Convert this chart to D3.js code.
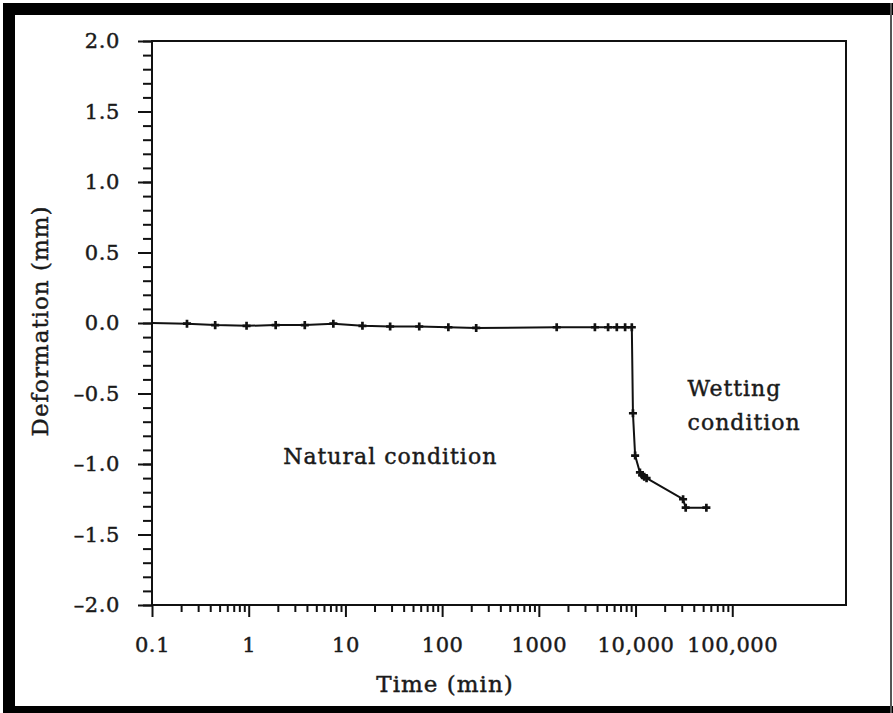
<!DOCTYPE html>
<html>
<head>
<meta charset="utf-8">
<script src="https://cdn.jsdelivr.net/npm/d3@7"></script>
<style>
  html, body { margin: 0; padding: 0; background: #fff; }
  svg { display: block; }
  text { font-family: "DejaVu Serif", serif; fill: #1a1a1a; stroke: #1a1a1a; stroke-width: 0.45px; letter-spacing: 0.6px; }
</style>
</head>
<body>
<script>
// Data (time in min, deformation in mm)
const timeMin = [0.1, 0.23, 0.45, 0.95, 1.9, 3.8, 7.5, 15, 29, 58, 116, 225,
    1530, 3800, 5200, 6400, 7800, 9150,
    9400, 9900, 11100, 11700, 12300, 13000, 31000, 33000, 54000];
const deformation = [0, -0.005, -0.015, -0.02, -0.015, -0.015, -0.005, -0.02, -0.025, -0.025, -0.03, -0.035,
    -0.03, -0.03, -0.03, -0.03, -0.03, -0.03,
    -0.64, -0.94, -1.06, -1.08, -1.09, -1.1, -1.25, -1.31, -1.31];

// Axis ticks and labels
const xTicks = [0.1, 1, 10, 100, 1000, 10000, 100000];
const xTickLabels = ['0.1', '1', '10', '100', '1000', '10,000', '100,000'];
const yTicks = [2.0, 1.5, 1.0, 0.5, 0.0, -0.5, -1.0, -1.5, -2.0];
const yTickLabels = ['2.0', '1.5', '1.0', '0.5', '0.0', '\u20130.5', '\u20131.0', '\u20131.5', '\u20132.0'];

const annotations = [
    { lines: ['Natural condition'], t: 2.27, d: -1.0 },
    { lines: ['Wetting', 'condition'], t: 34500, d: -0.52 }
];

// Layout
const W = 893, H = 713;
const m = { left: 152, right: 846, top: 41, bottom: 605 };

const svg = d3.select('body').append('svg')
    .attr('width', W)
    .attr('height', H);

// Outer scanned frame
svg.append('rect').attr('x', 3).attr('y', 3).attr('width', W - 3).attr('height', 12).attr('fill', '#000');
svg.append('rect').attr('x', 3).attr('y', 3).attr('width', 12).attr('height', H - 3).attr('fill', '#000');
svg.append('rect').attr('x', 3).attr('y', 706).attr('width', W - 3).attr('height', 7).attr('fill', '#000');
svg.append('rect').attr('x', 890).attr('y', 3).attr('width', 2).attr('height', H - 3).attr('fill', '#555');

// Scales
const x = d3.scaleLog().domain([0.1, 1.5e6]).range([m.left, m.right]);
const y = d3.scaleLinear().domain([-2, 2]).range([m.bottom, m.top]);

// Minor ticks
const xMinor = [];
xTicks.slice(0, -1).forEach(dec => {
    for (let k = 2; k <= 9; k++) xMinor.push(dec * k);
});
const yMinor = d3.range(-20, 21).map(v => v / 10);

const axisStyle = g => {
    g.select('.domain').remove();
    g.selectAll('line').attr('stroke', '#111').attr('stroke-width', 2);
};
const labelStyle = g => g.selectAll('text')
    .attr('font-size', 21)
    .attr('font-family', '"DejaVu Serif", serif')
    .attr('fill', '#1a1a1a');

// X axis
svg.append('g')
    .attr('transform', `translate(0,${m.bottom})`)
    .call(d3.axisBottom(x).tickValues(xMinor).tickSize(7).tickFormat(''))
    .call(axisStyle);
svg.append('g')
    .attr('transform', `translate(0,${m.bottom})`)
    .call(d3.axisBottom(x).tickValues(xTicks).tickSize(12).tickPadding(20)
        .tickFormat((d, i) => xTickLabels[i]))
    .call(axisStyle)
    .call(labelStyle);

// Y axis
svg.append('g')
    .attr('transform', `translate(${m.left},0)`)
    .call(d3.axisLeft(y).tickValues(yMinor).tickSize(9).tickFormat(''))
    .call(axisStyle);
svg.append('g')
    .attr('transform', `translate(${m.left},0)`)
    .call(d3.axisLeft(y).tickValues(yTicks).tickSize(14).tickPadding(18)
        .tickFormat((d, i) => yTickLabels[i]))
    .call(axisStyle)
    .call(labelStyle);

// Plot frame
svg.append('rect')
    .attr('x', m.left)
    .attr('y', m.top)
    .attr('width', m.right - m.left)
    .attr('height', m.bottom - m.top)
    .attr('fill', 'none')
    .attr('stroke', '#111')
    .attr('stroke-width', 2);

// Series
const pts = timeMin.map((t, i) => [t, deformation[i]]);
const line = d3.line().x(d => x(d[0])).y(d => y(d[1]));
svg.append('path')
    .datum(pts)
    .attr('d', line)
    .attr('fill', 'none')
    .attr('stroke', '#111')
    .attr('stroke-width', 2);

svg.append('g')
    .selectAll('path')
    .data(pts.slice(1))
    .join('path')
    .attr('transform', d => `translate(${x(d[0])},${y(d[1])})`)
    .attr('d', d3.symbol().type(d3.symbolCross).size(36))
    .attr('fill', '#111');

// Annotations
annotations.forEach(a => {
    const txt = svg.append('text')
        .attr('x', x(a.t))
        .attr('y', y(a.d))
        .attr('font-size', 22)
        .style('letter-spacing', '1px');
    a.lines.forEach((l, i) => {
        txt.append('tspan')
            .attr('x', x(a.t))
            .attr('dy', i === 0 ? 0 : 34)
            .text(l);
    });
});

// Axis titles
svg.append('text')
    .attr('x', 445)
    .attr('y', 692)
    .attr('text-anchor', 'middle')
    .attr('font-size', 23)
    .style('letter-spacing', '1px')
    .text('Time (min)');
svg.append('text')
    .attr('transform', 'translate(48,321) rotate(-90)')
    .attr('text-anchor', 'middle')
    .attr('font-size', 23)
    .style('letter-spacing', '1px')
    .text('Deformation (mm)');
</script>
</body>
</html>
